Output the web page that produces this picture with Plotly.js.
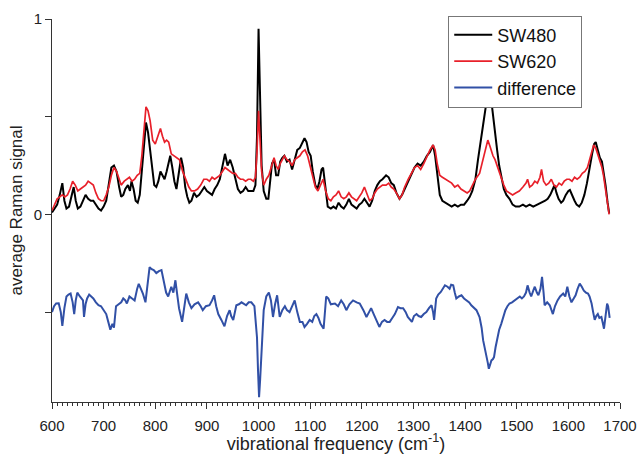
<!DOCTYPE html>
<html>
<head>
<meta charset="utf-8">
<script src="https://cdn.plot.ly/plotly-3.0.1.min.js"></script>
<style>html,body{margin:0;padding:0;background:#fff;}#chart{width:637px;height:454px;}</style>
</head>
<body>
<div id="chart"></div>
<script>
// SW480 (black)
const sw480X = [600,605,610,615,620,624,628,633,638,642,646,650,655,660,665,670,675,680,685,690,695,700,705,710,715,720,725,730,734,738,742,747,751,754,758,762,766,770,774,778,782,786,790,794,798,802,806,810,814,818,822,826,829,833,837,841,845,850,854,858,862,866,870,875,880,885,890,895,900,905,910,915,920,925,930,935,940,945,950,955,960,965,970,975,980,985,990,994,997,1000,1003,1006,1010,1015,1019,1022,1026,1030,1034,1038,1042,1046,1050,1055,1060,1065,1070,1075,1080,1085,1089,1093,1097,1101,1105,1110,1114,1118,1122,1125,1129,1134,1140,1145,1150,1155,1160,1165,1170,1175,1180,1185,1190,1195,1200,1205,1210,1215,1220,1225,1230,1235,1240,1247,1252,1257,1262,1267,1273,1278,1283,1290,1296,1302,1308,1314,1320,1326,1332,1338,1342,1346,1351,1356,1362,1368,1374,1380,1386,1392,1398,1404,1409,1414,1420,1425,1430,1435,1440,1446,1450,1454,1458,1462,1466,1470,1475,1480,1486,1492,1498,1505,1512,1518,1525,1532,1540,1548,1555,1560,1565,1570,1573,1577,1581,1586,1590,1595,1600,1603,1608,1612,1616,1621,1626,1631,1636,1641,1646,1650,1653,1657,1661,1665,1668,1672,1676,1679];
const sw480Y = [0.01,0.03,0.05,0.10,0.16,0.07,0.03,0.04,0.10,0.14,0.07,0.03,0.04,0.07,0.10,0.08,0.07,0.07,0.05,0.03,0.02,0.04,0.07,0.16,0.24,0.25,0.22,0.14,0.09,0.10,0.13,0.15,0.12,0.17,0.13,0.07,0.06,0.10,0.22,0.38,0.47,0.42,0.33,0.22,0.15,0.14,0.17,0.22,0.20,0.18,0.22,0.27,0.30,0.24,0.17,0.13,0.20,0.29,0.24,0.14,0.09,0.06,0.07,0.11,0.09,0.10,0.12,0.14,0.12,0.11,0.10,0.13,0.15,0.18,0.24,0.31,0.25,0.28,0.24,0.18,0.13,0.11,0.12,0.14,0.12,0.12,0.12,0.15,0.40,0.95,0.62,0.25,0.12,0.08,0.08,0.15,0.26,0.28,0.20,0.20,0.27,0.29,0.30,0.27,0.28,0.23,0.28,0.33,0.34,0.37,0.39,0.37,0.32,0.30,0.22,0.15,0.13,0.17,0.23,0.24,0.14,0.04,0.03,0.04,0.03,0.06,0.04,0.03,0.05,0.08,0.05,0.04,0.03,0.05,0.06,0.08,0.06,0.04,0.07,0.12,0.15,0.17,0.18,0.20,0.19,0.16,0.15,0.11,0.08,0.10,0.13,0.17,0.21,0.24,0.26,0.25,0.27,0.30,0.32,0.355,0.30,0.20,0.10,0.07,0.06,0.05,0.04,0.05,0.04,0.05,0.05,0.07,0.09,0.12,0.18,0.28,0.38,0.46,0.55,0.62,0.60,0.50,0.42,0.33,0.25,0.19,0.13,0.10,0.08,0.05,0.04,0.04,0.05,0.04,0.05,0.04,0.05,0.06,0.07,0.08,0.10,0.13,0.15,0.11,0.08,0.06,0.07,0.10,0.12,0.125,0.09,0.07,0.05,0.04,0.06,0.10,0.16,0.24,0.31,0.36,0.37,0.33,0.29,0.27,0.22,0.15,0.06,0.005];

// SW620 (red)
const sw620X = [600,605,610,615,620,625,630,635,640,645,650,655,660,665,670,675,680,685,690,695,700,705,710,715,720,725,730,734,740,745,750,755,760,765,770,774,778,782,786,790,795,800,805,810,814,818,822,826,831,836,841,847,853,860,865,870,876,882,888,894,900,905,910,915,920,925,930,935,940,945,950,955,960,965,970,975,980,985,990,994,997,1000,1003,1006,1010,1015,1020,1025,1030,1034,1038,1042,1046,1050,1055,1060,1065,1070,1075,1080,1085,1090,1095,1100,1105,1110,1115,1120,1125,1130,1135,1140,1145,1150,1155,1160,1165,1170,1175,1180,1185,1190,1195,1200,1205,1210,1215,1220,1225,1230,1235,1240,1247,1252,1257,1262,1267,1273,1278,1283,1290,1296,1302,1308,1314,1320,1326,1332,1338,1342,1346,1351,1356,1362,1368,1374,1380,1386,1392,1398,1404,1409,1414,1420,1428,1434,1440,1444,1448,1454,1458,1462,1466,1470,1475,1480,1486,1492,1498,1505,1512,1518,1521,1525,1530,1535,1540,1545,1548,1552,1557,1562,1567,1572,1577,1582,1587,1592,1597,1602,1607,1612,1617,1622,1627,1632,1637,1642,1646,1649,1653,1657,1661,1665,1668,1672,1676,1679];
const sw620Y = [0.02,0.05,0.08,0.09,0.10,0.09,0.10,0.13,0.17,0.15,0.12,0.13,0.14,0.15,0.17,0.16,0.15,0.11,0.08,0.07,0.07,0.10,0.14,0.20,0.24,0.22,0.18,0.15,0.17,0.18,0.19,0.17,0.18,0.20,0.21,0.30,0.45,0.55,0.53,0.48,0.38,0.36,0.40,0.44,0.40,0.37,0.38,0.37,0.31,0.30,0.29,0.28,0.22,0.17,0.14,0.12,0.12,0.13,0.15,0.18,0.18,0.17,0.19,0.18,0.19,0.20,0.22,0.24,0.23,0.22,0.21,0.21,0.19,0.18,0.18,0.17,0.18,0.18,0.17,0.19,0.32,0.53,0.40,0.22,0.15,0.18,0.20,0.24,0.29,0.25,0.23,0.26,0.28,0.30,0.28,0.27,0.25,0.28,0.29,0.30,0.32,0.33,0.30,0.25,0.19,0.14,0.12,0.15,0.18,0.12,0.08,0.07,0.09,0.10,0.12,0.09,0.08,0.09,0.11,0.09,0.08,0.07,0.09,0.11,0.14,0.10,0.07,0.08,0.11,0.13,0.14,0.15,0.15,0.16,0.14,0.13,0.11,0.08,0.10,0.14,0.18,0.21,0.24,0.25,0.23,0.26,0.30,0.33,0.355,0.33,0.26,0.20,0.19,0.18,0.17,0.16,0.14,0.15,0.13,0.12,0.11,0.12,0.15,0.18,0.21,0.28,0.34,0.38,0.35,0.30,0.28,0.25,0.21,0.18,0.15,0.12,0.11,0.10,0.11,0.12,0.14,0.16,0.18,0.14,0.15,0.17,0.16,0.19,0.23,0.17,0.15,0.16,0.18,0.15,0.14,0.16,0.15,0.17,0.18,0.18,0.17,0.19,0.18,0.19,0.21,0.22,0.24,0.29,0.33,0.355,0.34,0.31,0.28,0.24,0.20,0.13,0.06,0.00];

// difference (blue, offset below)
const diffX = [600,604,608,613,617,620,624,628,632,636,640,643,646,649,654,658,660,662,665,668,672,676,680,685,690,695,700,705,709,713,717,720,724,728,734,738,742,745,750,755,760,765,768,772,776,781,785,789,793,797,802,807,812,815,818,821,825,831,835,839,842,846,852,856,860,865,870,876,883,888,892,898,905,910,914,918,922,928,934,939,944,947,951,957,962,967,972,976,981,986,992,995,997,999,1001,1003,1006,1010,1015,1020,1024,1028,1032,1036,1041,1046,1051,1055,1060,1065,1070,1075,1080,1085,1089,1094,1099,1104,1108,1112,1116,1120,1126,1131,1135,1140,1144,1148,1154,1160,1165,1170,1176,1183,1190,1196,1203,1209,1214,1218,1223,1228,1234,1239,1244,1249,1254,1259,1264,1270,1275,1280,1285,1289,1293,1297,1301,1306,1310,1315,1320,1325,1330,1335,1338,1340,1344,1348,1353,1357,1361,1366,1370,1373,1377,1380,1383,1388,1393,1398,1403,1408,1412,1417,1422,1428,1432,1435,1438,1441,1444,1446,1449,1451,1454,1456,1459,1463,1466,1470,1474,1478,1482,1486,1491,1496,1501,1506,1510,1514,1518,1521,1525,1528,1532,1535,1539,1542,1546,1549,1552,1554,1559,1564,1570,1574,1579,1584,1590,1594,1598,1602,1606,1610,1614,1618,1622,1626,1630,1634,1638,1641,1645,1648,1651,1654,1657,1660,1664,1667,1669,1672,1675,1677,1680];
const diffY = [-0.50,-0.47,-0.456,-0.455,-0.50,-0.57,-0.48,-0.42,-0.41,-0.405,-0.45,-0.51,-0.44,-0.40,-0.42,-0.43,-0.44,-0.525,-0.46,-0.43,-0.41,-0.42,-0.43,-0.45,-0.465,-0.47,-0.49,-0.51,-0.55,-0.59,-0.56,-0.58,-0.47,-0.46,-0.45,-0.43,-0.44,-0.456,-0.42,-0.43,-0.44,-0.38,-0.355,-0.38,-0.405,-0.45,-0.35,-0.27,-0.28,-0.285,-0.30,-0.29,-0.285,-0.32,-0.355,-0.40,-0.42,-0.37,-0.40,-0.337,-0.40,-0.48,-0.55,-0.47,-0.405,-0.45,-0.48,-0.46,-0.45,-0.47,-0.49,-0.47,-0.465,-0.44,-0.414,-0.47,-0.51,-0.54,-0.573,-0.52,-0.49,-0.52,-0.54,-0.465,-0.46,-0.45,-0.46,-0.465,-0.45,-0.45,-0.47,-0.55,-0.63,-0.80,-0.935,-0.85,-0.70,-0.49,-0.42,-0.40,-0.44,-0.525,-0.46,-0.414,-0.525,-0.49,-0.47,-0.49,-0.50,-0.47,-0.44,-0.50,-0.55,-0.55,-0.576,-0.56,-0.54,-0.55,-0.52,-0.51,-0.53,-0.56,-0.585,-0.42,-0.43,-0.46,-0.456,-0.456,-0.47,-0.44,-0.46,-0.49,-0.46,-0.44,-0.45,-0.456,-0.49,-0.525,-0.50,-0.48,-0.51,-0.54,-0.576,-0.55,-0.54,-0.55,-0.55,-0.53,-0.51,-0.474,-0.48,-0.48,-0.50,-0.525,-0.54,-0.55,-0.52,-0.51,-0.52,-0.525,-0.51,-0.50,-0.48,-0.465,-0.50,-0.54,-0.43,-0.41,-0.397,-0.38,-0.363,-0.37,-0.38,-0.36,-0.363,-0.40,-0.43,-0.42,-0.414,-0.43,-0.44,-0.45,-0.465,-0.48,-0.49,-0.525,-0.58,-0.645,-0.68,-0.713,-0.76,-0.79,-0.76,-0.747,-0.74,-0.73,-0.68,-0.63,-0.59,-0.56,-0.52,-0.49,-0.47,-0.456,-0.45,-0.44,-0.43,-0.42,-0.43,-0.42,-0.40,-0.363,-0.40,-0.42,-0.39,-0.37,-0.40,-0.414,-0.38,-0.32,-0.40,-0.465,-0.45,-0.465,-0.51,-0.47,-0.44,-0.42,-0.405,-0.42,-0.37,-0.42,-0.45,-0.43,-0.414,-0.38,-0.354,-0.37,-0.39,-0.40,-0.405,-0.42,-0.456,-0.50,-0.54,-0.52,-0.51,-0.53,-0.525,-0.56,-0.585,-0.52,-0.456,-0.47,-0.53];

const yTickVals = [0, 1];
const yTickText = ['0', '1'];
const xTickVals = [600,700,800,900,1000,1100,1200,1300,1400,1500,1600,1700];

const traces = [
  {x: sw480X, y: sw480Y, name: 'SW480', type: 'scatter', mode: 'lines', line: {color: '#000000', width: 2}},
  {x: sw620X, y: sw620Y, name: 'SW620', type: 'scatter', mode: 'lines', line: {color: '#e8202a', width: 1.7}},
  {x: diffX, y: diffY, name: 'difference', type: 'scatter', mode: 'lines', line: {color: '#3150a6', width: 2}}
];

const layout = {
  width: 637, height: 454,
  margin: {l: 52, r: 17, t: 19, b: 52},
  paper_bgcolor: '#ffffff', plot_bgcolor: '#ffffff',
  font: {family: 'Liberation Sans, Arial, sans-serif', color: '#222', size: 15},
  showlegend: true,
  legend: {x: 0.6976, y: 1.009, xanchor: 'left', yanchor: 'top', bordercolor: '#777', borderwidth: 1,
           bgcolor: '#ffffff', font: {size: 18, color: '#111'}, tracegroupgap: 0, itemwidth: 38},
  xaxis: {
    range: [600, 1700], tickvals: xTickVals, ticks: 'outside', ticklen: 6, tickwidth: 1, tickcolor: '#333',
    showline: true, linecolor: '#333', linewidth: 1, showgrid: false, zeroline: false,
    tickfont: {size: 15, color: '#222'}, ticklabelstandoff: 4,
    minor: {dtick: 10, tick0: 600, ticks: 'outside', ticklen: 3, tickcolor: '#333', showgrid: false},
    title: {text: 'vibrational frequency (cm<sup>-1</sup>)', font: {size: 18, color: '#222'}, standoff: 6}
  },
  yaxis: {
    range: [-0.96, 1.0], tickvals: yTickVals, ticktext: yTickText, ticks: 'outside', ticklen: 6, tickwidth: 1,
    tickcolor: '#333', showline: true, linecolor: '#333', linewidth: 1, showgrid: false, zeroline: false,
    tickfont: {size: 15, color: '#222'},
    minor: {dtick: 0.5, tick0: 0, ticks: 'outside', ticklen: 6, tickcolor: '#333', showgrid: false},
    title: {text: 'average Raman signal', font: {size: 17, color: '#222'}, standoff: 6}
  }
};

Plotly.newPlot('chart', traces, layout, {displayModeBar: false, staticPlot: true});
</script>
</body>
</html>
